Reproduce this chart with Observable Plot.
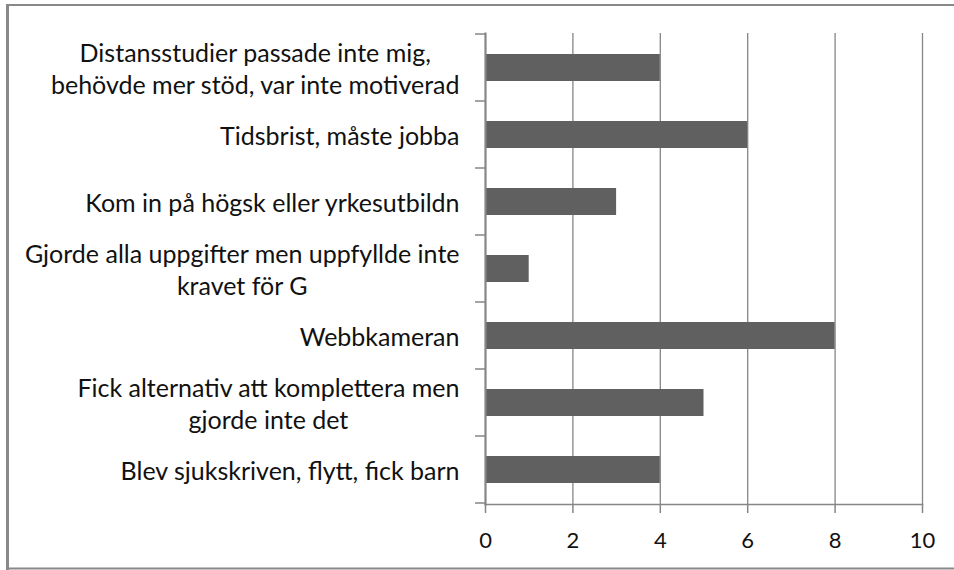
<!DOCTYPE html>
<html>
<head>
<meta charset="utf-8">
<script src="https://cdn.jsdelivr.net/npm/d3@7"></script>
<script src="https://cdn.jsdelivr.net/npm/@observablehq/plot@0.6"></script>
<style>
  html, body { margin: 0; padding: 0; background: #fff; }
  #chart { position: relative; width: 954px; height: 570px; overflow: hidden; }
  #chart svg { position: absolute; left: 0; top: 0; }
</style>
</head>
<body>
<div id="chart"></div>
<script>
const categories = [
  "Distansstudier passade inte mig,\nbehövde mer stöd, var inte motiverad",
  "Tidsbrist, måste jobba",
  "Kom in på högsk eller yrkesutbildn",
  "Gjorde alla uppgifter men uppfyllde inte\nkravet för G",
  "Webbkameran",
  "Fick alternativ att komplettera men\ngjorde inte det",
  "Blev sjukskriven, flytt, fick barn"
];
const values = [4, 6, 3, 1, 8, 5, 4];
const xTicks = [0, 2, 4, 6, 8, 10];

const data = categories.map((c, i) => ({cat: c, value: values[i]}));

const FONT = "Lato, 'Open Sans', sans-serif";
const GRID = "#868686";

const plot = Plot.plot({
  width: 954,
  height: 570,
  marginLeft: 485,
  marginRight: 32,
  marginTop: 33,
  marginBottom: 66,
  style: {fontFamily: FONT, background: "transparent", color: "#111"},
  x: {domain: [0, 10], ticks: xTicks, axis: null},
  y: {domain: categories, paddingInner: 0.6, paddingOuter: 0.3, axis: null},
  marks: [
    Plot.ruleX(xTicks.filter(d => d > 0), {stroke: GRID, strokeWidth: 1.3}),
    Plot.barX(data, {x: "value", y: "cat", fill: "#606060"}),
    Plot.frame({anchor: "left", stroke: GRID, strokeWidth: 2.2}),
    Plot.frame({anchor: "bottom", stroke: GRID, strokeWidth: 1.5}),
    Plot.axisX({ticks: xTicks, tickSize: 9, tickPadding: 19, fontSize: 22, stroke: GRID, strokeWidth: 1.5, fill: "#111", label: null}),
    Plot.text(data, {
      y: "cat", text: "cat", frameAnchor: "left", dx: -26,
      textAnchor: "end", fontSize: 25, lineHeight: 1.28, fill: "#111",
      className: "ylabels"
    })
  ]
});

document.getElementById("chart").appendChild(plot);

// category boundary ticks on the y axis
const ys = plot.scale("y");
const svg = d3.select(plot);
const gap = (ys.step - ys.bandwidth) / 2;
const bounds = categories.map(c => ys.apply(c) - gap);
bounds.push(ys.apply(categories[categories.length - 1]) + ys.bandwidth + gap);
svg.append("g").selectAll("line").data(bounds).join("line")
  .attr("x1", 475).attr("x2", 485)
  .attr("y1", d => d).attr("y2", d => d)
  .attr("stroke", GRID).attr("stroke-width", 1.5);

// centre multi-line labels within their right-aligned block
svg.selectAll("g.ylabels text").each(function() {
  const t = d3.select(this);
  const tspans = t.selectAll("tspan");
  if (tspans.size() > 1) {
    const w = this.getBBox().width;
    t.attr("text-anchor", "middle");
    tspans.attr("x", -w / 2);
  }
});

// outer border
const b = svg.append("g").attr("stroke", "#888").attr("fill", "none");
b.append("line").attr("x1", 7.5).attr("x2", 954).attr("y1", 5).attr("y2", 5).attr("stroke-width", 2);
b.append("line").attr("x1", 7.5).attr("x2", 7.5).attr("y1", 4).attr("y2", 570).attr("stroke-width", 3);
b.append("line").attr("x1", 7.5).attr("x2", 954).attr("y1", 568.5).attr("y2", 568.5).attr("stroke-width", 2);
</script>
</body>
</html>
